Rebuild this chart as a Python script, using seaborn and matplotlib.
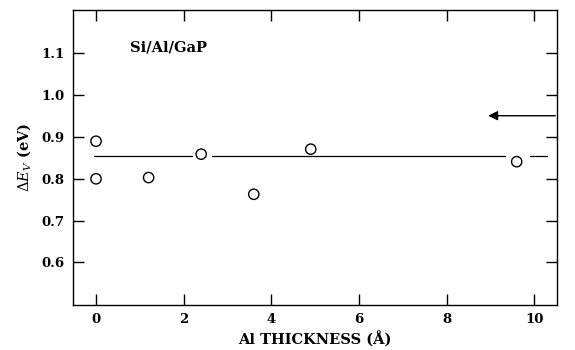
import matplotlib
matplotlib.use("Agg")
import matplotlib.pyplot as plt
import seaborn as sns
import pandas as pd

# data
thickness = [0.0, 0.0, 1.2, 2.4, 3.6, 4.9, 9.6]
delta_ev = [0.89, 0.80, 0.803, 0.859, 0.763, 0.871, 0.841]
fit_level = 0.855
fit_seg_start = [-0.04, 2.64, 9.91]
fit_seg_end = [2.18, 9.34, 10.29]
arrow_level = 0.951
arrow_from = 10.48
arrow_to = 8.95
x_ticks = [0, 2, 4, 6, 8, 10]
y_ticks = [0.6, 0.7, 0.8, 0.9, 1.0, 1.1]
label_text = "Si/Al/GaP"

sns.set_theme(style="ticks")
plt.rcParams['font.family'] = ['DejaVu Serif']
plt.rcParams['mathtext.fontset'] = 'dejavuserif'
plt.rcParams['text.color'] = 'black'
plt.rcParams['axes.labelcolor'] = 'black'

fig = plt.figure(figsize=(5.75, 3.5), dpi=100)
ax = fig.add_axes([0.127, 0.1286, 0.8417, 0.8428])

df = pd.DataFrame({"t": thickness, "e": delta_ev})
sns.scatterplot(data=df, x="t", y="e", ax=ax, s=55, facecolor="none",
                edgecolor="black", linewidth=1.0, zorder=3)

for a, b in zip(fit_seg_start, fit_seg_end):
    ax.plot([a, b], [fit_level, fit_level], color="black", lw=0.9)

ax.annotate("", xy=(arrow_to, arrow_level), xytext=(arrow_from, arrow_level),
            arrowprops=dict(arrowstyle="-|>", color="black", lw=1.0,
                            mutation_scale=14, shrinkA=0, shrinkB=0))

ax.text(0.78, 1.115, label_text, fontsize=10.5, fontweight="bold",
        color="black", ha="left", va="center")

ax.set_xlim(-0.525, 10.52)
ax.set_ylim(0.498, 1.204)
ax.set_xticks(x_ticks)
ax.set_yticks(y_ticks)
ax.set_xticklabels([str(v) for v in x_ticks], fontweight="bold", fontsize=9.5)
ax.set_yticklabels([f"{v:.1f}" for v in y_ticks], fontweight="bold", fontsize=9.5)
ax.tick_params(direction="in", length=8, width=1.0, top=True, right=True,
               color="black", labelcolor="black", pad=6)
for s in ax.spines.values():
    s.set_visible(True)
    s.set_color("black")
    s.set_linewidth(1.0)

ax.set_xlabel("Al THICKNESS (Å)", fontsize=10.5, fontweight="bold", labelpad=4)
ax.set_ylabel(r"$\Delta E_V$ (eV)", fontsize=10.5, fontweight="bold", labelpad=6)

fig.savefig("out.png", dpi=100)
